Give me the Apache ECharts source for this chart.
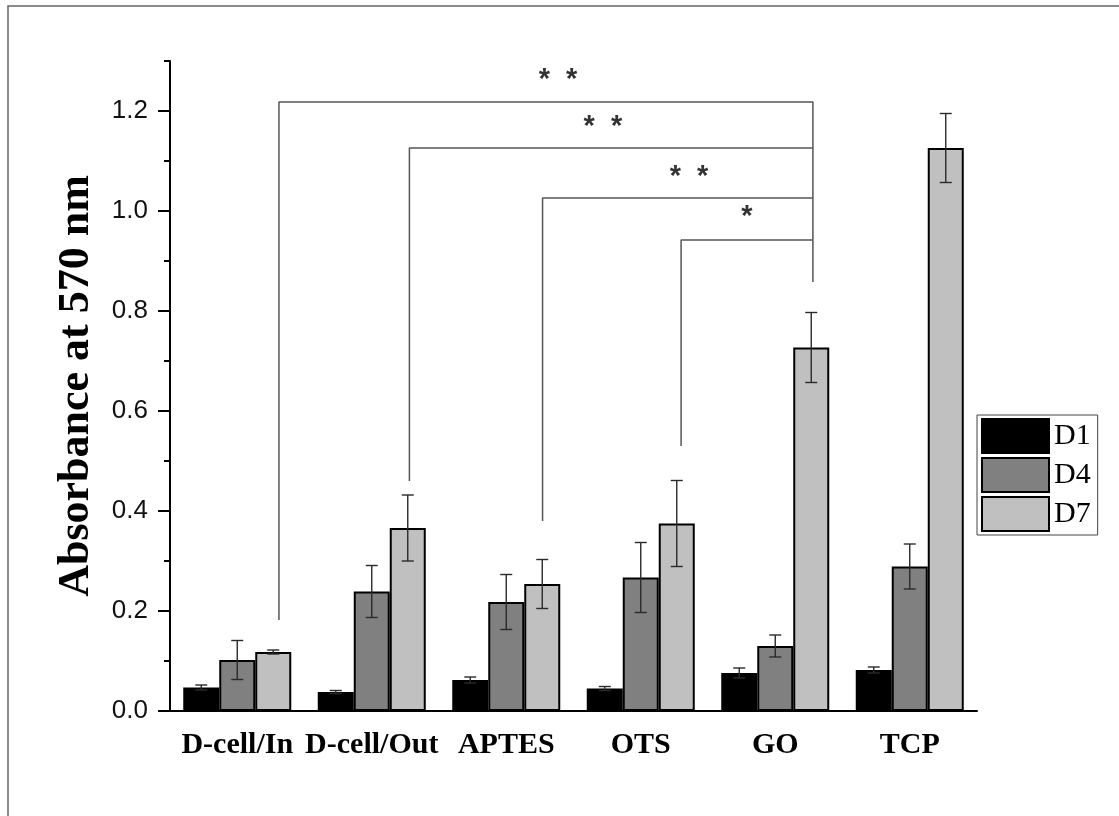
<!DOCTYPE html>
<html>
<head>
<meta charset="utf-8">
<script src="https://cdn.jsdelivr.net/npm/echarts@6/dist/echarts.min.js"></script>
<style>
  html, body { margin: 0; padding: 0; background: #fff; }
  #chart { width: 1119px; height: 816px; }
</style>
</head>
<body>
<div id="chart"></div>
<script>
// Absorbance at 570 nm per substrate, on day 1, 4 and 7
const categories = ['D-cell/In', 'D-cell/Out', 'APTES', 'OTS', 'GO', 'TCP'];
const seriesNames = ['D1', 'D4', 'D7'];
const d1 = [0.047, 0.038, 0.062, 0.045, 0.076, 0.082];
const d4 = [0.102, 0.239, 0.218, 0.267, 0.130, 0.289];
const d7 = [0.118, 0.366, 0.254, 0.375, 0.727, 1.126];
const d1Err = [0.005, 0.003, 0.006, 0.004, 0.010, 0.006];
const d4Err = [0.039, 0.052, 0.055, 0.070, 0.022, 0.045];
const d7Err = [0.004, 0.066, 0.049, 0.086, 0.070, 0.069];

const yMajorTicks = [0, 0.2, 0.4, 0.6, 0.8, 1.0, 1.2];
const yMinorTicks = [0.1, 0.3, 0.5, 0.7, 0.9, 1.1, 1.3];

// Significance brackets; x in category units (0 = left edge of the first group)
const bracketLeftX = [0.81, 1.78, 2.77, 3.80];
const bracketLeftEnd = [0.182, 0.46, 0.38, 0.53];
const bracketTop = [1.218, 1.126, 1.026, 0.942];
const bracketRightX = 4.78;
const bracketRightEnd = 0.858;
const starLabels = ['*  *', '*  *', '*  *', '*'];
const starX = [2.885, 3.219, 3.859, 4.29];
const starY = [1.262, 1.168, 1.068, 0.988];

const colors = ['#000000', '#808080', '#c0c0c0'];
const BAR_W = 36;

const chart = echarts.init(document.getElementById('chart'));

function errorSeries(name, vals, errs, offset) {
  return {
    name: name,
    type: 'custom',
    xAxisIndex: 0,
    yAxisIndex: 0,
    z: 5,
    silent: true,
    data: vals.map((v, i) => [i, v, errs[i]]),
    renderItem: function (params, api) {
      const i = api.value(0), v = api.value(1), e = api.value(2);
      const x = api.coord([i, v])[0] + offset;
      const yt = api.coord([i, v + e])[1];
      const yb = api.coord([i, v - e])[1];
      const cap = 6;
      const style = { stroke: '#2a2a2a', lineWidth: 1.4 };
      return {
        type: 'group',
        children: [
          { type: 'line', shape: { x1: x, y1: yt, x2: x, y2: yb }, style: style },
          { type: 'line', shape: { x1: x - cap, y1: yt, x2: x + cap, y2: yt }, style: style },
          { type: 'line', shape: { x1: x - cap, y1: yb, x2: x + cap, y2: yb }, style: style }
        ]
      };
    }
  };
}

function barSeries(name, vals, color) {
  return {
    name: name,
    type: 'bar',
    xAxisIndex: 0,
    yAxisIndex: 0,
    barWidth: BAR_W,
    barGap: '0%',
    data: vals,
    itemStyle: { color: color, borderColor: '#000', borderWidth: 2 }
  };
}

const bracketSeries = bracketLeftX.map((lx, k) => {
  const pts = [[lx, bracketLeftEnd[k]], [lx, bracketTop[k]], [bracketRightX, bracketTop[k]]];
  if (k === 0) pts.push([bracketRightX, bracketRightEnd]);
  return {
    name: 'bracket' + k,
    type: 'line',
    xAxisIndex: 1,
    yAxisIndex: 0,
    data: pts,
    symbol: 'none',
    silent: true,
    z: 4,
    lineStyle: { color: '#555', width: 1.5 }
  };
});

const starSeries = {
  name: 'significance',
  type: 'scatter',
  xAxisIndex: 1,
  yAxisIndex: 0,
  symbolSize: 0,
  itemStyle: { color: 'rgba(0,0,0,0)' },
  silent: true,
  z: 6,
  data: starLabels.map((s, k) => ({ name: s, value: [starX[k], starY[k]] })),
  label: {
    show: true,
    position: 'inside',
    formatter: '{b}',
    fontFamily: 'Liberation Sans',
    fontWeight: 'bold',
    fontSize: 29,
    color: '#000'
  },
  labelLayout: { hideOverlap: false }
};

chart.setOption({
  animation: false,
  backgroundColor: '#fff',
  graphic: [{
    type: 'rect',
    silent: true,
    shape: { x: 8, y: 6, width: 1300, height: 1000 },
    style: { fill: 'none', stroke: '#666', lineWidth: 1.5 }
  }],
  grid: { left: 170, right: 142, top: 61, bottom: 105, containLabel: false, outerBoundsMode: 'none' },
  legend: {
    data: seriesNames,
    orient: 'vertical',
    left: 977,
    top: 415,
    icon: 'rect',
    itemWidth: 67,
    itemHeight: 34,
    itemGap: 3,
    padding: [3, 7, 3, 4],
    borderColor: '#444',
    borderWidth: 1,
    textStyle: { fontFamily: 'Liberation Serif', fontSize: 30, color: '#000' }
  },
  xAxis: [
    {
      type: 'category',
      data: categories,
      position: 'bottom',
      axisLine: { lineStyle: { color: '#000', width: 2 } },
      axisTick: { alignWithLabel: true, length: 12, lineStyle: { color: '#000', width: 2 } },
      axisLabel: {
        interval: 0,
        hideOverlap: false,
        margin: 19,
        fontFamily: 'Liberation Serif',
        fontWeight: 'bold',
        fontSize: 30,
        color: '#000'
      },
      splitLine: { show: false }
    },
    { type: 'value', min: 0, max: 6, show: false },
    {
      type: 'category',
      data: categories,
      position: 'bottom',
      axisLine: { show: false },
      axisTick: { alignWithLabel: false, length: 5, lineStyle: { color: '#000', width: 2 } },
      axisLabel: { show: false },
      splitLine: { show: false }
    }
  ],
  yAxis: [
    {
      type: 'value',
      min: 0,
      max: 1.3,
      interval: 0.1,
      position: 'left',
      name: 'Absorbance at 570 nm',
      nameLocation: 'middle',
      nameGap: 71,
      nameTextStyle: { fontFamily: 'Liberation Serif', fontWeight: 'bold', fontSize: 44, color: '#000' },
      axisLine: { show: true, lineStyle: { color: '#000', width: 2 } },
      axisTick: { show: true, length: 12, customValues: yMajorTicks, lineStyle: { color: '#000', width: 2 } },
      axisLabel: {
        customValues: yMajorTicks,
        margin: 22,
        formatter: v => v.toFixed(1),
        fontFamily: 'Liberation Sans',
        fontSize: 26,
        color: '#111'
      },
      splitLine: { show: false }
    },
    {
      type: 'value',
      min: 0,
      max: 1.3,
      interval: 0.1,
      position: 'left',
      axisLine: { show: false },
      axisTick: { show: true, length: 6, customValues: yMinorTicks, lineStyle: { color: '#000', width: 2 } },
      axisLabel: { show: false },
      splitLine: { show: false }
    }
  ],
  series: [
    barSeries('D1', d1, colors[0]),
    barSeries('D4', d4, colors[1]),
    barSeries('D7', d7, colors[2]),
    errorSeries('D1 error', d1, d1Err, -BAR_W),
    errorSeries('D4 error', d4, d4Err, 0),
    errorSeries('D7 error', d7, d7Err, BAR_W),
    ...bracketSeries,
    starSeries
  ]
});
</script>
</body>
</html>
